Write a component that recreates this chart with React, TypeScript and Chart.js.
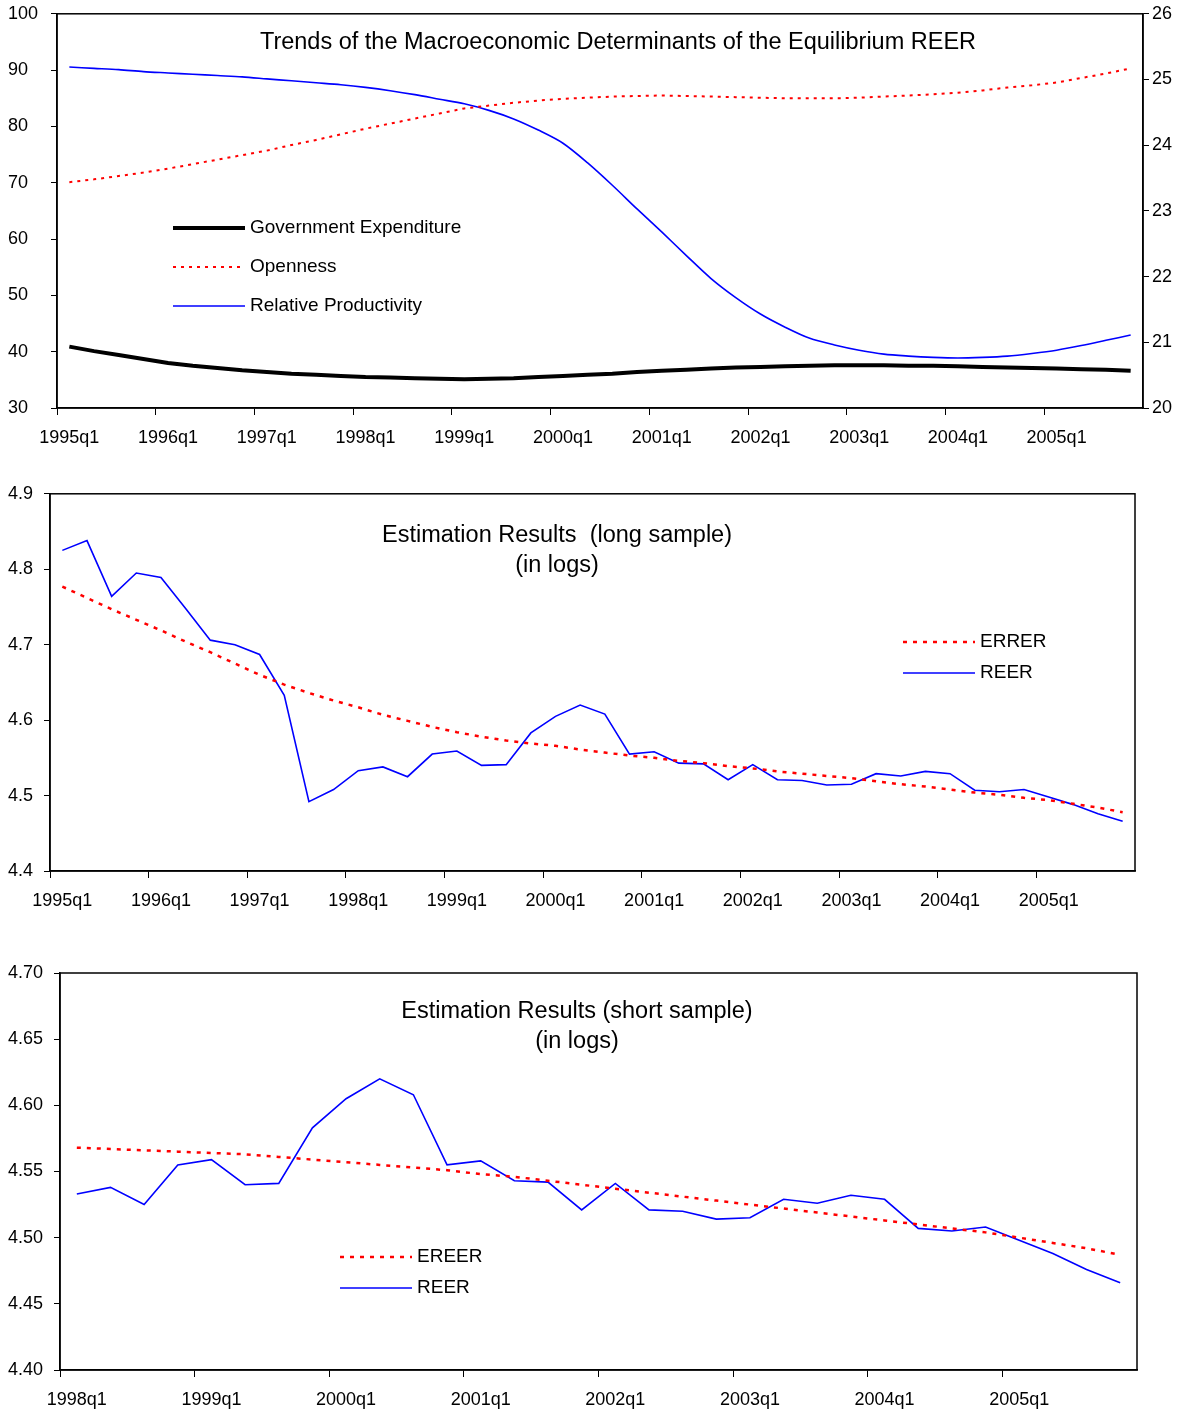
import { useRef, useEffect } from "react";
import { Chart, registerables } from "chart.js";

Chart.register(...registerables);

const FONT = "'Liberation Sans', Arial, sans-serif";

function quarters(from: number, to: number): string[] {
  const out: string[] = [];
  for (let y = from; y <= to; y++) for (let q = 1; q <= 4; q++) out.push(`${y}q${q}`);
  return out;
}

const quartersLong = quarters(1995, 2005);
const quartersShort = quarters(1998, 2005);

const govExpenditure = [
  40.9, 40.1, 39.4, 38.7, 38.0, 37.5, 37.1, 36.7, 36.4, 36.1, 35.9, 35.7,
  35.5, 35.4, 35.3, 35.2, 35.1, 35.2, 35.3, 35.5, 35.7, 35.9, 36.1, 36.4,
  36.6, 36.8, 37.0, 37.2, 37.3, 37.4, 37.5, 37.6, 37.6, 37.6, 37.5, 37.5,
  37.4, 37.3, 37.2, 37.1, 37.0, 36.9, 36.8, 36.6,
];
const openness = [
  70.1, 70.6, 71.2, 71.8, 72.5, 73.3, 74.1, 74.9, 75.7, 76.7, 77.6, 78.6,
  79.6, 80.5, 81.4, 82.3, 83.2, 83.7, 84.2, 84.6, 84.9, 85.1, 85.3, 85.4,
  85.5, 85.4, 85.3, 85.2, 85.1, 85.0, 85.0, 85.0, 85.1, 85.3, 85.5, 85.7,
  86.0, 86.4, 86.9, 87.3, 87.8, 88.6, 89.4, 90.3,
];
const relProductivity = [
  25.19, 25.17, 25.15, 25.12, 25.1, 25.08, 25.06, 25.04, 25.01, 24.98, 24.95, 24.92,
  24.88, 24.83, 24.77, 24.7, 24.63, 24.53, 24.4, 24.23, 24.03, 23.73, 23.39, 23.03,
  22.68, 22.32, 21.97, 21.68, 21.43, 21.23, 21.06, 20.96, 20.88, 20.82, 20.79, 20.77,
  20.76, 20.77, 20.79, 20.83, 20.88, 20.95, 21.03, 21.11,
];

const reer = [
  4.825, 4.838, 4.764, 4.795, 4.789, 4.748, 4.706, 4.7, 4.687, 4.633, 4.492, 4.508,
  4.533, 4.538, 4.525, 4.555, 4.559, 4.54, 4.541, 4.583, 4.605, 4.62, 4.608, 4.555,
  4.558, 4.543, 4.542, 4.521, 4.541, 4.521, 4.52, 4.514, 4.515, 4.529, 4.526, 4.532,
  4.529, 4.507, 4.505, 4.508, 4.498, 4.488, 4.476, 4.466,
];
const errerLong = [
  4.777, 4.762, 4.747, 4.733, 4.719, 4.704, 4.69, 4.675, 4.66, 4.647, 4.636, 4.626,
  4.617, 4.607, 4.599, 4.591, 4.584, 4.578, 4.573, 4.569, 4.566, 4.561, 4.557, 4.553,
  4.55, 4.546, 4.543, 4.539, 4.536, 4.532, 4.529, 4.526, 4.523, 4.519, 4.515, 4.512,
  4.508, 4.504, 4.501, 4.497, 4.494, 4.489, 4.484, 4.478,
];
const reerShort = reer.slice(12);
const ereerShort = [
  4.568, 4.567, 4.566, 4.565, 4.564, 4.563, 4.561, 4.559, 4.557, 4.555, 4.553, 4.551,
  4.548, 4.546, 4.543, 4.54, 4.537, 4.534, 4.531, 4.528, 4.525, 4.522, 4.519, 4.516,
  4.513, 4.51, 4.507, 4.504, 4.5, 4.496, 4.492, 4.487,
];

type LegendItem = { label: string; color: string; width: number; dash: number[] };

function overlay(titles: { text: string; x: number; y: number }[], legend: LegendItem[], lx: number, ly: number, gap: number) {
  return {
    id: "overlay",
    afterDraw(chart: Chart) {
      const { ctx, chartArea: a } = chart;
      ctx.save();
      ctx.strokeStyle = "#000";
      ctx.lineWidth = 1.5;
      ctx.strokeRect(a.left, a.top, a.right - a.left, a.bottom - a.top);
      ctx.fillStyle = "#000";
      ctx.textAlign = "center";
      ctx.textBaseline = "middle";
      ctx.font = `23.5px ${FONT}`;
      titles.forEach((t) => ctx.fillText(t.text, t.x, t.y));
      ctx.font = `19px ${FONT}`;
      ctx.textAlign = "left";
      legend.forEach((it, i) => {
        const y = ly + i * gap;
        ctx.beginPath();
        ctx.strokeStyle = it.color;
        ctx.lineWidth = it.width;
        ctx.setLineDash(it.dash);
        ctx.moveTo(lx, y);
        ctx.lineTo(lx + 72, y);
        ctx.stroke();
        ctx.setLineDash([]);
        ctx.fillText(it.label, lx + 77, y);
      });
      ctx.restore();
    },
  };
}

function xAxis(height: number, labels: string[]) {
  return {
    offset: true,
    afterFit: (s: any) => { s.height = height; },
    grid: {
      offset: true,
      drawOnChartArea: false,
      tickLength: 7,
      tickColor: (c: any) => (c.index % 4 === 0 ? "#000" : "rgba(0,0,0,0)"),
    },
    border: { color: "#000", width: 1.5 },
    ticks: {
      autoSkip: false,
      maxRotation: 0,
      padding: 12,
      color: "#000",
      font: { family: FONT, size: 18 },
      callback: (_v: any, i: number) => (i % 4 === 0 ? labels[i] : ""),
    },
  };
}

function yAxis(width: number, min: number, max: number, step: number, digits: number, position = "left") {
  return {
    position,
    min,
    max,
    afterFit: (s: any) => { s.width = width; },
    grid: { drawOnChartArea: false, tickLength: 6, color: "#000" },
    border: { color: "#000", width: 1.5 },
    ticks: {
      stepSize: step,
      color: "#000",
      crossAlign: position === "left" ? "far" : "near",
      font: { family: FONT, size: 18 },
      callback: (v: any) => Number(v).toFixed(digits),
    },
  };
}

function useChart(ref: React.RefObject<HTMLCanvasElement | null>, make: () => any) {
  useEffect(() => {
    if (!ref.current) return;
    const chart = new Chart(ref.current, make());
    return () => chart.destroy();
  }, []);
}

const baseOptions = {
  responsive: true,
  maintainAspectRatio: false,
  animation: false,
  plugins: { legend: { display: false }, tooltip: { enabled: false } },
  elements: { point: { radius: 0 }, line: { tension: 0 } },
};

export default function App() {
  const r1 = useRef<HTMLCanvasElement>(null);
  const r2 = useRef<HTMLCanvasElement>(null);
  const r3 = useRef<HTMLCanvasElement>(null);

  useChart(r1, () => ({
    type: "line",
    data: {
      labels: quartersLong,
      datasets: [
        { data: govExpenditure, borderColor: "#000", borderWidth: 4, yAxisID: "y" },
        { data: openness, borderColor: "#ff0000", borderWidth: 2, borderDash: [3, 5], yAxisID: "y" },
        { data: relProductivity, borderColor: "#0000ff", borderWidth: 1.6, yAxisID: "y1", tension: 0.3 },
      ],
    },
    options: {
      ...baseOptions,
      layout: { padding: { top: 13, right: 0, left: 8, bottom: 0 } },
      scales: {
        x: xAxis(47, quartersLong),
        y: yAxis(49, 30, 100, 10, 0),
        y1: yAxis(48, 20, 26, 1, 0, "right"),
      },
    },
    plugins: [
      overlay(
        [{ text: "Trends of the Macroeconomic Determinants of the Equilibrium REER", x: 618, y: 43 }],
        [
          { label: "Government Expenditure", color: "#000", width: 4, dash: [] },
          { label: "Openness", color: "#ff0000", width: 2, dash: [3, 5] },
          { label: "Relative Productivity", color: "#0000ff", width: 1.6, dash: [] },
        ],
        173, 228, 39,
      ),
    ],
  }));

  useChart(r2, () => ({
    type: "line",
    data: {
      labels: quartersLong,
      datasets: [
        { data: errerLong, borderColor: "#ff0000", borderWidth: 2.5, borderDash: [4, 6] },
        { data: reer, borderColor: "#0000ff", borderWidth: 1.6 },
      ],
    },
    options: {
      ...baseOptions,
      layout: { padding: { top: 13, right: 56, left: 8, bottom: 0 } },
      scales: {
        x: xAxis(44, quartersLong),
        y: yAxis(42, 4.4, 4.9, 0.1, 1),
      },
    },
    plugins: [
      overlay(
        [
          { text: "Estimation Results  (long sample)", x: 557, y: 56 },
          { text: "(in logs)", x: 557, y: 86 },
        ],
        [
          { label: "ERRER", color: "#ff0000", width: 2.5, dash: [4, 6] },
          { label: "REER", color: "#0000ff", width: 1.6, dash: [] },
        ],
        903, 162, 31,
      ),
    ],
  }));

  useChart(r3, () => ({
    type: "line",
    data: {
      labels: quartersShort,
      datasets: [
        { data: ereerShort, borderColor: "#ff0000", borderWidth: 2.5, borderDash: [4, 6] },
        { data: reerShort, borderColor: "#0000ff", borderWidth: 1.6 },
      ],
    },
    options: {
      ...baseOptions,
      layout: { padding: { top: 18, right: 54, left: 8, bottom: 0 } },
      scales: {
        x: xAxis(44, quartersShort),
        y: yAxis(52, 4.4, 4.7, 0.05, 2),
      },
    },
    plugins: [
      overlay(
        [
          { text: "Estimation Results (short sample)", x: 577, y: 57 },
          { text: "(in logs)", x: 577, y: 87 },
        ],
        [
          { label: "EREER", color: "#ff0000", width: 2.5, dash: [4, 6] },
          { label: "REER", color: "#0000ff", width: 1.6, dash: [] },
        ],
        340, 302, 31,
      ),
    ],
  }));

  const box = (top: number, height: number): React.CSSProperties => ({
    position: "absolute", left: 0, top, width: 1191, height,
  });

  return (
    <div style={{ position: "absolute", left: 0, top: 0, width: 1191, height: 1414, background: "#fff" }}>
      <div style={box(0, 455)}><canvas ref={r1} /></div>
      <div style={box(480, 435)}><canvas ref={r2} /></div>
      <div style={box(955, 459)}><canvas ref={r3} /></div>
    </div>
  );
}
